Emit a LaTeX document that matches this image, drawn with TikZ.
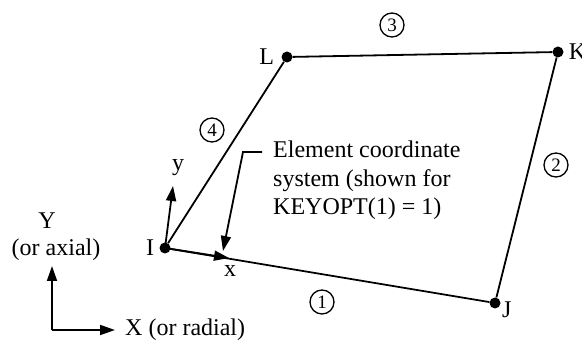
\documentclass[tikz,border=0pt]{standalone}
\usepackage{fontspec}
\setmainfont{Liberation Serif}
\usetikzlibrary{arrows.meta,positioning}

\begin{document}
\begin{tikzpicture}[x=1pt,y=-1pt,font=\fontsize{24}{28.5}\selectfont]
\tikzstyle{vtx}=[circle, fill=black, inner sep=0pt, minimum size=11pt]
\tikzstyle{lbl}=[inner sep=1pt]
\tikzstyle{num}=[draw, circle, line width=1.3pt, inner sep=0pt, minimum size=24pt, font=\fontsize{19}{19}\selectfont]
\tikzstyle{edge}=[line width=1.8pt]
\tikzstyle{arr}=[line width=1.8pt, -{Triangle[length=15pt,width=10pt]}]
\useasboundingbox (0,0) rectangle (582,342);
% corner nodes
\foreach \n/\x/\y in {I/165/248,J/495/303,K/558/52,L/287/57}{\node[vtx] (\n) at (\x,\y){};}
\node[lbl, left=4pt of I]{I};
\node[lbl, left=6pt of L]{L};
\node[lbl, right=4pt of K]{K};
\node[lbl, below right=-6pt and 2pt of J]{J};
% sides
\foreach \i/\j in {I/J,J/K,K/L,L/I}{\draw[edge] (\i) -- (\j);}
\foreach \l/\x/\y in {1/322/302,2/556/165,3/392/25,4/212/130}{\node[num] (n\l) at (\x,\y){\l};}
% element axes
\coordinate (yt) at (173,186);
\coordinate (xt) at (229,258);
\draw[arr] (I.center) -- (yt);
\draw[arr] (I.center) -- (xt);
\node[lbl] (ylbl) at (178,168){y};
\node[lbl] (xlbl) at (230,271){x};
% note with leader
\node[lbl, anchor=north west, align=left] (note) at (272,140){Element coordinate\\system (shown for\\KEYOPT(1) = 1)};
\coordinate (lead) at (262,152);
\coordinate (bend) at (243,152);
\coordinate (ptr) at (223,251);
\draw[arr] (lead) -- (bend) -- (ptr);
% global axes
\coordinate (org) at (52,330);
\coordinate (Yt) at (52,266);
\coordinate (Xt) at (115,330);
\draw[arr] (org) -- (Yt);
\draw[arr] (org) -- (Xt);
\node[lbl] (Ylbl) at (47,221){Y};
\node[lbl] (Ysub) at (56,250){(or axial)};
\node[lbl, anchor=west] (Xlbl) at (124,330){X (or radial)};
\end{tikzpicture}
\end{document}
